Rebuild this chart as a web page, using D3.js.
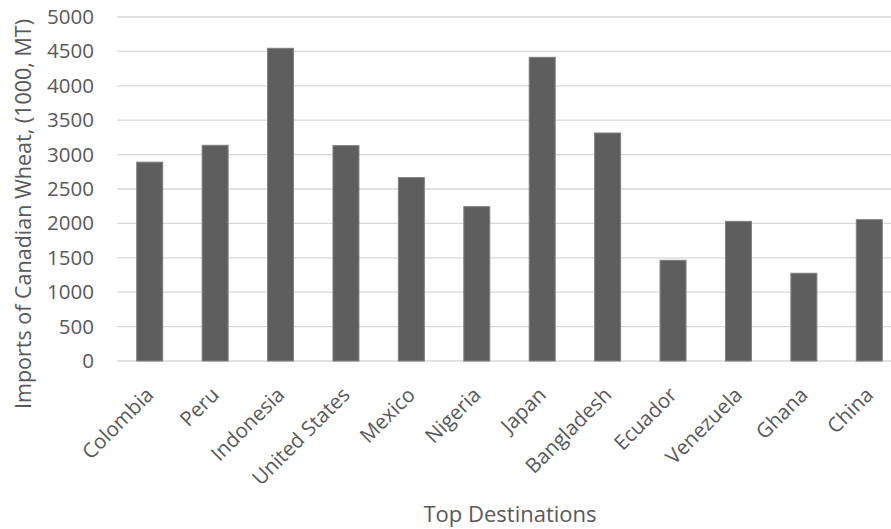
<!DOCTYPE html>
<html>
<head>
<meta charset="utf-8">
<script src="https://cdn.jsdelivr.net/npm/d3@7"></script>
<style>
  html, body { margin: 0; padding: 0; background: #fff; overflow: hidden; }
  text { font-family: "Open Sans", sans-serif; fill: #595959; }
</style>
</head>
<body>
<div id="chart"></div>
<script>
// data
var g_categories = ["Colombia", "Peru", "Indonesia", "United States", "Mexico", "Nigeria",
                    "Japan", "Bangladesh", "Ecuador", "Venezuela", "Ghana", "China"];
var g_values = [2890, 3135, 4545, 3130, 2665, 2243, 4414, 3314, 1464, 2030, 1275, 2054];
var g_y_ticks = [0, 500, 1000, 1500, 2000, 2500, 3000, 3500, 4000, 4500, 5000];

var g_width = 891, g_height = 529;
var g_plot = { left: 117, right: 902, top: 17, bottom: 361 };

var g_svg = d3.select("#chart")
  .append("svg")
    .attr("width", g_width)
    .attr("height", g_height);

var g_x = d3.scaleBand()
    .domain(g_categories)
    .range([g_plot.left, g_plot.right])
    .paddingInner(0.603)
    .paddingOuter(0.3015);

var g_y = d3.scaleLinear()
    .domain([0, 5000])
    .range([g_plot.bottom, g_plot.top]);

//----------------------------------------------------------
// grid lines
g_svg.append("g")
  .selectAll("line")
  .data(g_y_ticks)
  .join("line")
    .attr("x1", g_plot.left)
    .attr("x2", g_plot.right)
    .attr("y1", function (d) { return g_y(d); })
    .attr("y2", function (d) { return g_y(d); })
    .attr("stroke", "#d9d9d9")
    .attr("stroke-width", 1.3);

// y axis labels
var y_axis = g_svg.append("g")
    .attr("transform", "translate(" + (g_plot.left - 23) + ",0)")
    .call(d3.axisLeft(g_y).tickValues(g_y_ticks).tickFormat(d3.format("d"))
        .tickSize(0).tickPadding(0));
y_axis.select(".domain").remove();
y_axis.selectAll("text")
    .style("font-size", "20.5px")
    .style("font-family", "'Open Sans', sans-serif")
    .attr("fill", "#595959");

// bars
g_svg.append("g")
  .selectAll("rect")
  .data(g_values)
  .join("rect")
    .attr("x", function (d, i) { return g_x(g_categories[i]); })
    .attr("width", g_x.bandwidth())
    .attr("y", function (d) { return g_y(d); })
    .attr("height", function (d) { return g_y(0) - g_y(d); })
    .attr("fill", "#5e5e5e")
    .attr("stroke", "#7f7f7f")
    .attr("stroke-width", 1);

// category labels
g_svg.append("g")
  .selectAll("text")
  .data(g_categories)
  .join("text")
    .attr("transform", function (d) {
        var cx = g_x(d) + g_x.bandwidth() / 2;
        return "translate(" + (cx - 5) + "," + (g_plot.bottom + 25) + ") rotate(-45)";
    })
    .attr("text-anchor", "end")
    .attr("dy", "0.7em")
    .style("font-size", "20.5px")
    .text(function (d) { return d; });

// axis titles
g_svg.append("text")
    .attr("x", 510)
    .attr("y", 522)
    .attr("text-anchor", "middle")
    .style("font-size", "22px")
    .text("Top Destinations");

g_svg.append("text")
    .attr("transform", "translate(31,19) rotate(-90)")
    .attr("text-anchor", "end")
    .style("font-size", "21.5px")
    .text("Imports of Canadian Wheat, (1000, MT)");
</script>
</body>
</html>
